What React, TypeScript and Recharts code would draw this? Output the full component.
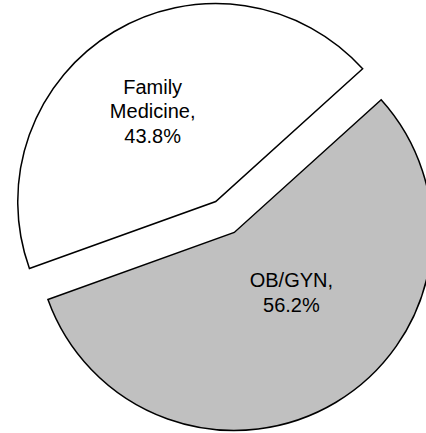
import React from "react";
import { PieChart, Pie, Cell, Sector } from "recharts";

const categories = ["Family Medicine", "OB/GYN"];
const shares = [43.8, 56.2];
const fills = ["#ffffff", "#c0c0c0"];

// label placement measured from each exploded slice's tip: [distance, angle]
const labelPlacement: [number, number][] = [
  [110, 125],
  [83, 313.5],
];

const RAD = Math.PI / 180;
const EXPLODE = 18;

const data = categories.map((name, i) => ({ name, value: shares[i] }));

const shift = (midAngle: number) => ({
  dx: EXPLODE * Math.cos(-midAngle * RAD),
  dy: EXPLODE * Math.sin(-midAngle * RAD),
});

function ExplodedSector(props: any) {
  const { dx, dy } = shift(props.midAngle);
  return (
    <Sector
      {...props}
      cx={props.cx + dx}
      cy={props.cy + dy}
      stroke="#000000"
      strokeWidth={1.5}
    />
  );
}

function SliceLabel(props: any) {
  const { cx, cy, midAngle, index } = props;
  const { dx, dy } = shift(midAngle);
  const [dist, ang] = labelPlacement[index];
  const x = cx + dx + dist * Math.cos(-ang * RAD);
  const y = cy + dy + dist * Math.sin(-ang * RAD);
  const words = categories[index].split(" ");
  const lines = [...words.slice(0, -1), words[words.length - 1] + ",", `${shares[index].toFixed(1)}%`];
  const lh = 24.5;
  const top = y - ((lines.length - 1) * lh) / 2;
  return (
    <text
      x={x}
      y={top}
      textAnchor="middle"
      dominantBaseline="central"
      fontFamily="'Liberation Sans', Arial, sans-serif"
      fontSize={20}
      fill="#000000"
    >
      {lines.map((l, i) => (
        <tspan key={i} x={x} y={top + i * lh}>
          {l}
        </tspan>
      ))}
    </text>
  );
}

export default function App() {
  return (
    <div style={{ position: "absolute", left: 0, top: 0, width: 426, height: 433, background: "#ffffff" }}>
      <PieChart width={426} height={433} margin={{ top: 0, right: 0, bottom: 0, left: 0 }}>
        <Pie
          data={data}
          dataKey="value"
          nameKey="name"
          cx={225}
          cy={217}
          outerRadius={198}
          startAngle={42.1}
          endAngle={402.1}
          stroke="#000000"
          strokeWidth={1.5}
          shape={ExplodedSector}
          label={SliceLabel}
          labelLine={false}
          isAnimationActive={false}
        >
          {data.map((d, i) => (
            <Cell key={d.name} fill={fills[i]} />
          ))}
        </Pie>
      </PieChart>
    </div>
  );
}
